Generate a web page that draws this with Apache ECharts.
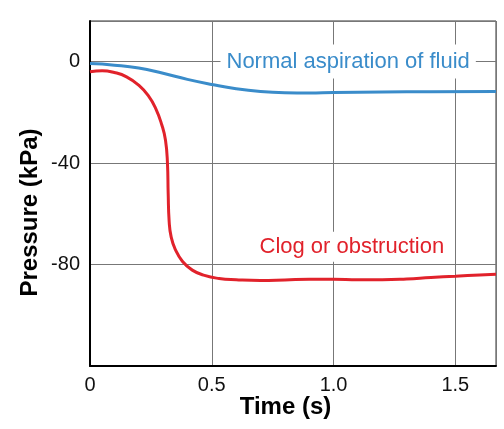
<!DOCTYPE html>
<html>
<head>
<meta charset="utf-8">
<script src="https://cdn.jsdelivr.net/npm/echarts@6/dist/echarts.min.js"></script>
<style>
html,body{margin:0;padding:0;background:#fff}
#chart{width:504px;height:429px}
</style>
</head>
<body>
<div id="chart"></div>
<script>
// tick labels shown on the axes
var xTicks = [0, 0.5, 1.0, 1.5];
var yTicks = [0, -40, -80];
// [time (s), pressure (kPa)]
var normalData = [
  [0, -0.8], [0.1, -1.4], [0.2, -2.5], [0.3, -4.6], [0.4, -7.0],
  [0.5, -9.0], [0.6, -10.7], [0.7, -11.8], [0.8, -12.3], [0.9, -12.4], [1.0, -12.2],
  [1.2, -12.0], [1.4, -11.9], [1.667, -11.8]
];
var clogData = [
  [0, -4.0], [0.05, -3.6], [0.1, -4.3], [0.15, -6.0], [0.2, -9.3], [0.24, -13.5],
  [0.27, -18.5], [0.295, -25], [0.31, -31], [0.318, -40], [0.321, -52], [0.325, -63],
  [0.333, -69], [0.35, -74], [0.38, -78.8], [0.42, -82.2], [0.47, -84.3], [0.53, -85.5],
  [0.6, -86], [0.7, -86.3], [0.8, -86.1], [0.9, -85.8], [1.0, -85.8], [1.1, -86],
  [1.2, -86], [1.3, -85.7], [1.4, -85.1], [1.5, -84.6], [1.6, -84.1], [1.667, -83.8]
];
var normalName = 'Normal aspiration of fluid';
var clogName = 'Clog or obstruction';
var normalLabelAt = [1.06, 0];
var clogLabelAt = [1.075, -73];

var blue = '#3a8cca', red = '#e1222b';
var font = "'Liberation Sans', Arial, sans-serif";

function inList(list, v) {
  for (var i = 0; i < list.length; i++) if (Math.abs(list[i] - v) < 1e-6) return true;
  return false;
}

var myChart = echarts.init(document.getElementById('chart'));
var option = {
  animation: false,
  grid: {
    left: 90, top: 21, right: 8, bottom: 63,
    show: true, borderColor: '#333', borderWidth: 1
  },
  xAxis: {
    type: 'value', min: 0, max: 1.667, interval: 0.5,
    axisLine: { show: true, onZero: false, lineStyle: { color: '#000', width: 2 } },
    axisTick: { show: false },
    splitLine: { show: true, lineStyle: { color: '#777', width: 1 } },
    axisLabel: {
      margin: 9, color: '#111', fontSize: 20, fontFamily: font,
      formatter: function (v) {
        if (!inList(xTicks, v)) return '';
        return v === 0 ? '0' : v.toFixed(1);
      }
    }
  },
  yAxis: {
    type: 'value', min: -120, max: 16, interval: 40,
    axisLine: { show: true, onZero: false, lineStyle: { color: '#000', width: 2 } },
    axisTick: { show: false },
    splitLine: { show: true, lineStyle: { color: '#777', width: 1 } },
    axisLabel: {
      margin: 10, color: '#111', fontSize: 20, fontFamily: font,
      formatter: function (v) {
        return inList(yTicks, v) ? String(v) : '';
      }
    }
  },
  graphic: [
    {
      type: 'text', x: 285.5, y: 407,
      style: { text: 'Time (s)', fill: '#000', font: 'bold 24px ' + font, textAlign: 'center', textVerticalAlign: 'middle' }
    },
    {
      type: 'text', x: 30, y: 212.5, rotation: Math.PI / 2,
      style: { text: 'Pressure (kPa)', fill: '#000', font: 'bold 24px ' + font, textAlign: 'center', textVerticalAlign: 'middle' }
    }
  ],
  series: [
    {
      name: normalName, type: 'line', data: normalData, smooth: 0.5,
      symbol: 'none', lineStyle: { color: blue, width: 3 },
      markPoint: {
        symbol: 'rect', symbolSize: 0, silent: true,
        label: {
          show: true, position: 'inside', formatter: normalName,
          color: blue, fontSize: 22, fontFamily: font,
          backgroundColor: '#fff', padding: [6, 6]
        },
        data: [{ coord: normalLabelAt }]
      }
    },
    {
      name: clogName, type: 'line', data: clogData, smooth: 0.5,
      symbol: 'none', lineStyle: { color: red, width: 3 },
      markPoint: {
        symbol: 'rect', symbolSize: 0, silent: true,
        label: {
          show: true, position: 'inside', formatter: clogName,
          color: red, fontSize: 22, fontFamily: font,
          backgroundColor: '#fff', padding: [4, 6]
        },
        data: [{ coord: clogLabelAt }]
      }
    }
  ]
};
myChart.setOption(option);
</script>
</body>
</html>
